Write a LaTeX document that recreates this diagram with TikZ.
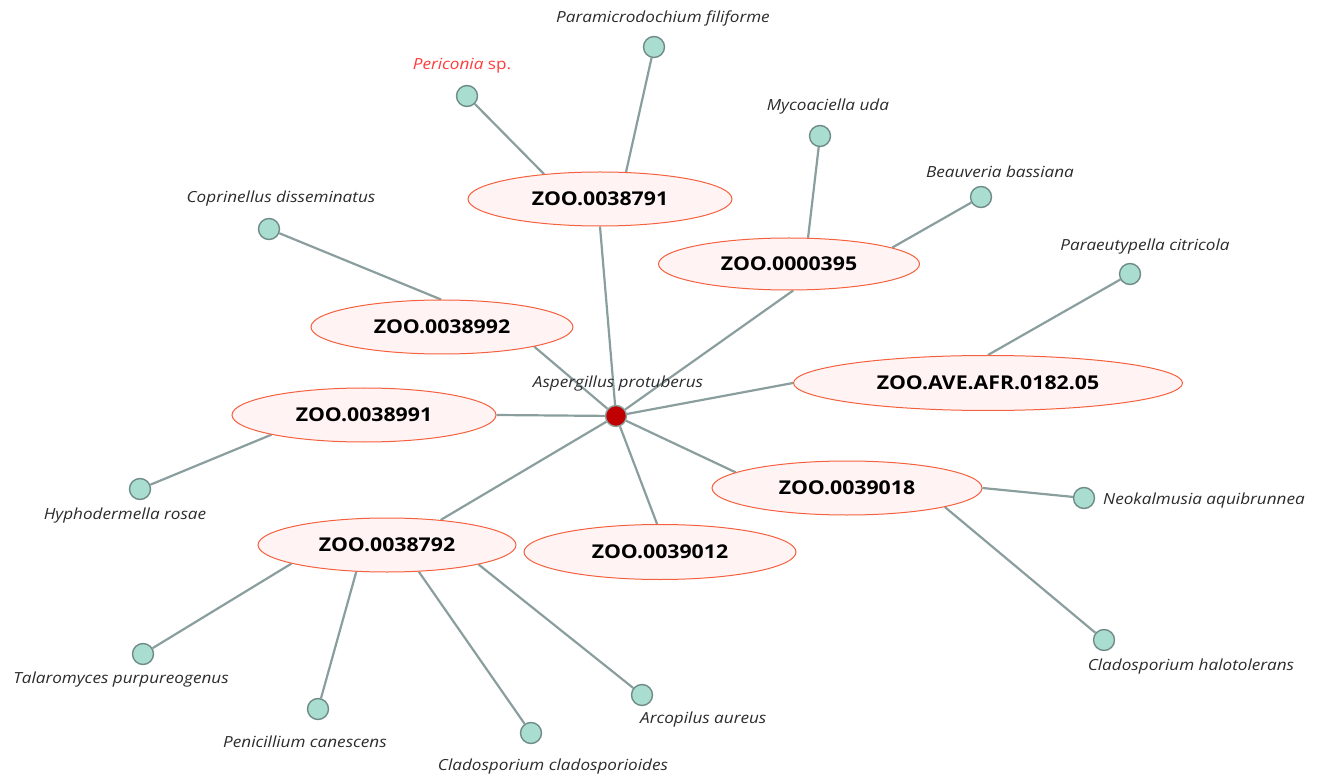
\documentclass[tikz,border=0pt]{standalone}
\usepackage{fontspec}
\setmainfont[FakeStretch=1.12]{Open Sans}
\usetikzlibrary{shapes.geometric,backgrounds}
\definecolor{edgec}{HTML}{8A9E9E}
\definecolor{leaff}{HTML}{A9DDD0}
\definecolor{leafd}{HTML}{6F8B88}
\definecolor{ellf}{HTML}{FFF4F3}
\definecolor{elld}{HTML}{F5603E}
\definecolor{hubf}{HTML}{C00000}
\definecolor{labc}{HTML}{2B2B2B}
\definecolor{redlab}{HTML}{FF3B3B}
\tikzset{
  leaf/.style={circle,draw=leafd,fill=leaff,line width=1.4pt,minimum size=21pt,inner sep=0pt},
  hub/.style={circle,draw=edgec,fill=hubf,line width=1.4pt,minimum size=21pt,inner sep=0pt},
  zoo/.style={ellipse,draw=elld,fill=ellf,line width=1pt,minimum height=54pt,inner sep=0pt,font=\fontsize{19}{22}\selectfont\bfseries,text=black},
  lab/.style={font=\fontsize{15.3}{18}\selectfont\itshape,text=labc,inner sep=0pt,yshift=-2pt},
  edge/.style={draw=edgec,line width=2.2pt}
}
\begin{document}
\begin{tikzpicture}[x=1pt,y=-1pt]
\useasboundingbox (0,0) rectangle (1317,783);
% hub
\node[hub] (hub) at (616,416) {};
\node[lab] (hubl) at (618,382) {Aspergillus protuberus};
% ellipses
\node[zoo,minimum width=264pt] (e1) at (600,199) {ZOO.0038791};
\node[zoo,minimum width=261pt,minimum height=52pt] (e2) at (789,264) {ZOO.0000395};
\node[zoo,minimum width=262pt] (e3) at (442,327) {ZOO.0038992};
\node[zoo,minimum width=264pt] (e4) at (364,415) {ZOO.0038991};
\node[zoo,minimum width=389pt,minimum height=55pt] (e5) at (988,383) {ZOO.AVE.AFR.0182.05};
\node[zoo,minimum width=270pt] (e6) at (847,488) {ZOO.0039018};
\node[zoo,minimum width=258pt] (e7) at (387,545) {ZOO.0038792};
\node[zoo,minimum width=272pt,minimum height=55pt] (e8) at (660,552) {ZOO.0039012};
% leaves
\node[leaf] (l1) at (467,96) {};
\node[lab,text=redlab] (l1t) at (462,64) {Periconia\upshape{} sp.};
\node[leaf] (l2) at (654,47) {};
\node[lab] (l2t) at (663,16) {Paramicrodochium filiforme};
\node[leaf] (l3) at (820,136) {};
\node[lab] (l3t) at (828,105) {Mycoaciella uda};
\node[leaf] (l4) at (981,197) {};
\node[lab] (l4t) at (1000,170) {Beauveria bassiana};
\node[leaf] (l5) at (1130,274) {};
\node[lab] (l5t) at (1145,245) {Paraeutypella citricola};
\node[leaf] (l6) at (269,229) {};
\node[lab] (l6t) at (281,197) {Coprinellus disseminatus};
\node[leaf] (l7) at (140,489) {};
\node[lab] (l7t) at (125,514) {Hyphodermella rosae};
\node[leaf] (l8) at (1084,498) {};
\node[lab,anchor=west] (l8t) at (1103,499) {Neokalmusia aquibrunnea};
\node[leaf] (l9) at (1104,640) {};
\node[lab] (l9t) at (1191,665) {Cladosporium halotolerans};
\node[leaf] (l10) at (143,654) {};
\node[lab] (l10t) at (121,678) {Talaromyces purpureogenus};
\node[leaf] (l11) at (318,709) {};
\node[lab] (l11t) at (305,740) {Penicillium canescens};
\node[leaf] (l12) at (531,733) {};
\node[lab] (l12t) at (553,765) {Cladosporium cladosporioides};
\node[leaf] (l13) at (642,695) {};
\node[lab,anchor=west] (l13t) at (640,718) {Arcopilus aureus};
% edges
\begin{scope}[on background layer]
\draw[edge] (hub) -- (e1.270);
\draw[edge] (hub) -- (e2.-81);
\draw[edge] (hub) -- (e3.-12.5);
\draw[edge] (hub) -- (e4.east);
\draw[edge] (hub) -- (e5.west);
\draw[edge] (hub) -- (e6.172);
\draw[edge] (hub) -- (e7.25);
\draw[edge] (hub) -- (e8.96);
\draw[edge] (l1) -- (e1.156);
\draw[edge] (l2) -- (e1.46);
\draw[edge] (l3) -- (e2.54);
\draw[edge] (l4) -- (e2.9);
\draw[edge] (l6) -- (e3.92);
\draw[edge] (l7) -- (e4.192.6);
\draw[edge] (l5) -- (e5.90);
\draw[edge] (l8) -- (e6.east);
\draw[edge] (l9) -- (e6.-11.3);
\draw[edge] (l10) -- (e7.191);
\draw[edge] (l11) -- (e7.221);
\draw[edge] (l12) -- (e7.-40);
\draw[edge] (l13) -- (e7.-12.6);
\end{scope}
\end{tikzpicture}
\end{document}
